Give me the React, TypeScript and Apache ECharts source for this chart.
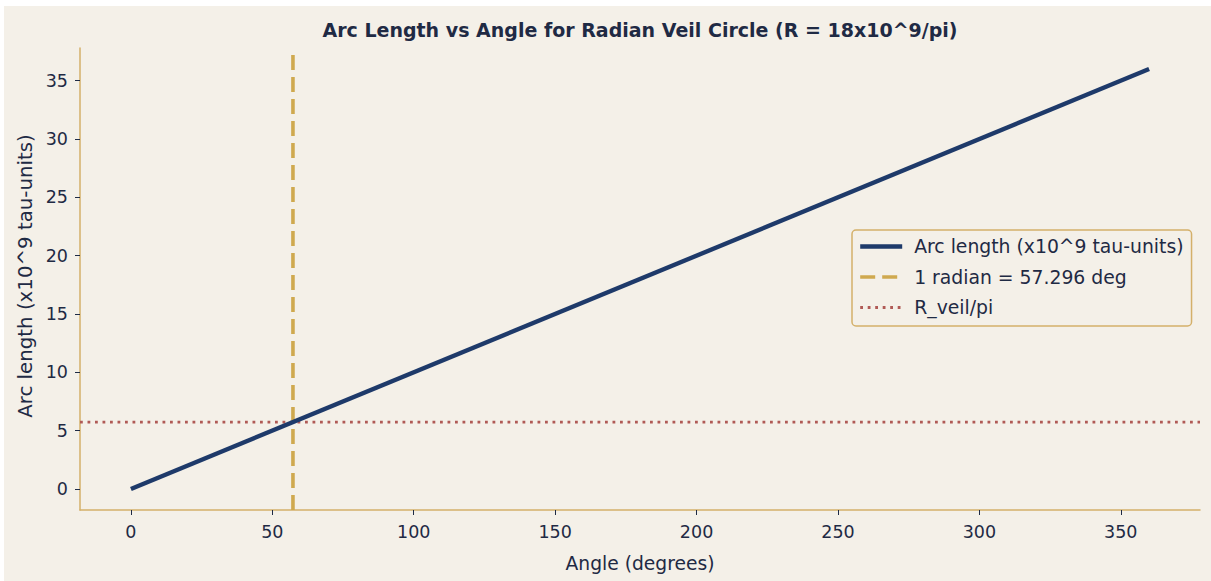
import React, { useEffect, useRef } from "react";
import * as echarts from "echarts";

const title = "Arc Length vs Angle for Radian Veil Circle (R = 18x10^9/pi)";
const xName = "Angle (degrees)";
const yName = "Arc length (x10^9 tau-units)";

const angles = [0, 360];
const arcLengths = [0, 36];
const oneRadianDeg = 57.296;
const rVeilOverPi = 5.7296;
const xRange = [-18, 378];
const yRange = [-1.8, 37.8];
const xTicks = [0, 50, 100, 150, 200, 250, 300, 350];
const yTicks = [0, 5, 10, 15, 20, 25, 30, 35];

const seriesNames = ["Arc length (x10^9 tau-units)", "1 radian = 57.296 deg", "R_veil/pi"];

const BG = "#f4f0e8";
const TEXT = "#1f2a44";
const SPINE = "#d4b06a";
const NAVY = "#1e3a6a";
const GOLD = "#cfa94f";
const RED = "#b05a55";
const FONT = "DejaVu Sans";

export default function App() {
  const ref = useRef<HTMLDivElement>(null);
  useEffect(() => {
    if (!ref.current) return;
    const chart = echarts.init(ref.current, null, { renderer: "svg" });
    const axisCommon = {
      axisLine: { show: true, onZero: false, lineStyle: { color: SPINE, width: 1.5 } },
      axisTick: { show: true, length: 5, lineStyle: { color: TEXT, width: 1 } },
      axisLabel: { color: TEXT, fontSize: 17.5, fontFamily: FONT, margin: 12 },
      splitLine: { show: false },
    };
    chart.setOption({
      animation: false,
      backgroundColor: BG,
      textStyle: { fontFamily: FONT },
      grid: { left: 76, top: 42, right: 11, bottom: 71, containLabel: false },
      xAxis: {
        type: "value",
        min: xRange[0],
        max: xRange[1],
        ...axisCommon,
        axisTick: { ...axisCommon.axisTick, customValues: xTicks },
        axisLabel: { ...axisCommon.axisLabel, customValues: xTicks, margin: 13 },
      },
      yAxis: {
        type: "value",
        min: yRange[0],
        max: yRange[1],
        ...axisCommon,
        axisTick: { ...axisCommon.axisTick, customValues: yTicks },
        axisLabel: { ...axisCommon.axisLabel, customValues: yTicks },
      },
      legend: {
        orient: "vertical",
        left: 848,
        top: 224,
        padding: [7, 8, 9, 6],
        itemWidth: 42,
        itemHeight: 14,
        itemGap: 11.5,
        backgroundColor: BG,
        borderColor: SPINE,
        borderWidth: 1.5,
        borderRadius: 4,
        itemStyle: { color: "rgba(0,0,0,0)", borderWidth: 0, opacity: 0 },
        lineStyle: { width: "inherit", type: "inherit" },
        textStyle: { color: TEXT, fontSize: 18.8, fontFamily: FONT, padding: [0, 0, 0, 7] },
        data: seriesNames,
      },
      graphic: [
        {
          type: "text",
          x: 636,
          y: 24,
          style: {
            text: title,
            fill: TEXT,
            font: `bold 19px "${FONT}"`,
            textAlign: "center",
            textVerticalAlign: "middle",
          },
        },
        {
          type: "text",
          x: 636,
          y: 557,
          style: {
            text: xName,
            fill: TEXT,
            font: `18.7px "${FONT}"`,
            textAlign: "center",
            textVerticalAlign: "middle",
          },
        },
        {
          type: "text",
          x: 21,
          y: 270,
          rotation: Math.PI / 2,
          style: {
            text: yName,
            fill: TEXT,
            font: `19.8px "${FONT}"`,
            textAlign: "center",
            textVerticalAlign: "middle",
          },
        },
      ],
      series: [
        {
          name: seriesNames[2],
          type: "line",
          symbol: "none",
          silent: true,
          z: 2,
          data: [
            [xRange[0], rVeilOverPi],
            [xRange[1], rVeilOverPi],
          ],
          lineStyle: { color: RED, width: 2.8, type: [2.8, 4.7] },
          itemStyle: { color: RED },
        },
        {
          name: seriesNames[1],
          type: "line",
          symbol: "none",
          silent: true,
          z: 3,
          data: [
            [oneRadianDeg, yRange[0]],
            [oneRadianDeg, yRange[1]],
          ],
          lineStyle: { color: GOLD, width: 3.6, type: [15, 7] },
          itemStyle: { color: GOLD },
        },
        {
          name: seriesNames[0],
          type: "line",
          symbol: "none",
          silent: true,
          z: 4,
          data: angles.map((a, i) => [a, arcLengths[i]]),
          lineStyle: { color: NAVY, width: 4.4 },
          itemStyle: { color: NAVY },
        },
      ],
    });
    return () => chart.dispose();
  }, []);
  return (
    <div
      ref={ref}
      style={{ position: "absolute", left: 4, top: 6, width: 1207, height: 575 }}
    />
  );
}
